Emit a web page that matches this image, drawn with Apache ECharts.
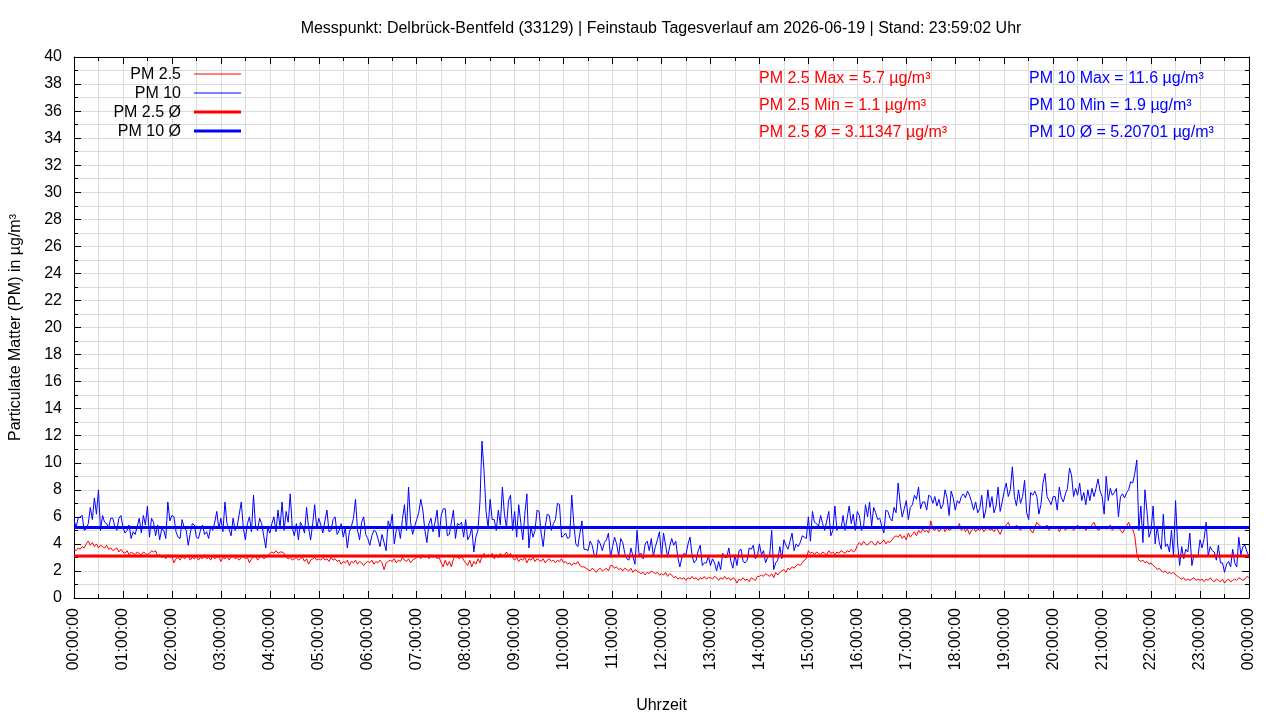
<!DOCTYPE html>
<html><head><meta charset="utf-8">
<script src="https://cdn.jsdelivr.net/npm/echarts@6/dist/echarts.min.js"></script>
<style>html,body{margin:0;padding:0;background:#fff}#c{width:1280px;height:720px}</style>
</head><body><div id="c"></div>
<script>
const chartTitle = 'Messpunkt: Delbrück-Bentfeld (33129) | Feinstaub Tagesverlauf am 2026-06-19 | Stand: 23:59:02 Uhr';
const pm25StepMinutes = 2.5;
const pm10StepMinutes = 2.5;
const seriesNames = ['PM 2.5', 'PM 10', 'PM 2.5 Ø', 'PM 10 Ø'];
const tickLabels = ['00:00:00','01:00:00','02:00:00','03:00:00','04:00:00','05:00:00','06:00:00','07:00:00',
  '08:00:00','09:00:00','10:00:00','11:00:00','12:00:00','13:00:00','14:00:00','15:00:00','16:00:00',
  '17:00:00','18:00:00','19:00:00','20:00:00','21:00:00','22:00:00','23:00:00','00:00:00'];

const pm25Max = 5.7, pm25Min = 1.1, pm25Avg = 3.11347;
const pm10Max = 11.6, pm10Min = 1.9, pm10Avg = 5.20701;

// PM 2.5, one value every 2.5 minutes (rows = hours 00..23, last value = 24:00)
const pm25 = [
  3.6,3.5,3.7,3.6,3.8,3.7,4.0,4.2,3.9,4.1,3.8,4.0,3.7,3.9,3.8,3.7,3.9,3.6,3.7,3.5,3.6,3.7,3.4,3.6,
  3.4,3.3,3.5,3.2,3.4,3.3,3.2,3.4,3.3,3.2,3.4,3.3,3.2,3.3,3.5,3.4,3.5,3.1,3.2,3.0,3.1,2.9,3.2,3.0,
  3.1,2.6,2.9,3.0,2.8,3.1,2.9,3.0,3.2,2.8,3.0,2.9,3.1,2.8,3.0,2.9,3.2,2.9,3.0,2.8,3.1,2.9,3.0,3.1,
  2.7,3.0,2.9,3.1,2.8,3.0,3.1,2.9,3.0,2.8,3.0,3.1,2.9,3.0,2.6,2.9,3.0,3.1,2.8,3.0,3.1,2.9,3.0,3.1,
  3.3,3.4,3.3,3.5,3.3,3.4,3.4,3.3,3.0,2.9,3.0,2.8,2.9,3.0,2.8,2.9,3.0,2.7,2.9,2.5,2.8,2.9,3.0,2.8,
  2.9,2.8,3.0,2.8,2.9,2.7,3.0,2.8,2.9,2.7,2.8,2.5,2.7,2.6,2.8,2.4,2.7,2.6,2.8,2.5,2.7,2.6,2.4,2.6,
  2.7,2.6,2.8,2.5,2.7,2.6,2.8,2.6,2.1,2.6,2.7,2.8,2.7,2.9,2.6,2.8,2.7,3.0,2.8,2.7,2.9,2.6,2.8,2.9,
  3.0,3.1,2.9,3.2,3.0,3.1,2.9,3.2,3.0,3.1,2.9,3.0,2.6,2.3,2.8,2.4,2.7,2.3,2.9,3.1,3.0,2.9,3.1,2.8,
  2.6,2.4,2.8,2.3,2.7,2.5,2.9,2.6,3.1,3.3,3.0,3.2,3.1,3.3,2.9,3.2,3.0,3.3,3.1,3.2,3.4,3.1,3.3,3.0,
  2.8,3.0,2.7,2.9,2.8,3.0,2.6,2.9,2.8,3.0,2.7,2.9,2.8,2.7,2.9,2.6,2.8,2.9,2.7,2.8,2.6,2.8,2.7,2.9,
  2.6,2.7,2.5,2.6,2.4,2.6,2.5,2.7,2.4,2.3,2.3,2.2,2.1,2.0,2.2,2.1,1.9,2.1,2.2,2.0,2.1,2.2,2.0,2.4,
  2.4,2.2,2.3,2.1,2.2,2.0,2.2,2.1,2.0,2.2,1.9,2.1,2.0,1.9,1.8,1.9,1.7,1.9,1.8,2.0,1.9,1.8,1.9,1.7,
  1.8,1.7,1.9,1.6,1.8,1.7,1.5,1.6,1.4,1.5,1.4,1.5,1.3,1.5,1.4,1.6,1.4,1.5,1.3,1.5,1.4,1.6,1.4,1.5,
  1.5,1.4,1.6,1.5,1.3,1.5,1.4,1.6,1.4,1.5,1.3,1.5,1.4,1.1,1.4,1.3,1.5,1.3,1.4,1.2,1.5,1.4,1.3,1.6,
  1.6,1.7,1.6,1.8,1.7,1.6,1.8,1.5,1.9,1.7,1.9,2.0,2.1,1.9,2.2,2.1,2.3,2.2,2.4,2.5,2.4,2.6,2.8,2.9,
  3.5,3.3,3.4,3.2,3.4,3.3,3.2,3.4,3.3,3.2,3.5,3.3,3.4,3.2,3.4,3.3,3.5,3.4,3.3,3.5,3.4,3.6,3.4,3.5,
  3.9,4.1,3.9,4.2,4.0,3.9,4.1,4.2,4.0,3.9,4.2,4.0,4.1,4.3,4.0,4.2,4.1,4.3,4.5,4.6,4.5,4.7,4.4,4.6,
  4.3,4.8,4.5,4.7,4.9,4.6,5.0,4.8,5.1,4.9,5.0,4.8,5.7,5.1,5.0,5.2,4.9,5.1,5.3,4.9,5.2,5.0,5.1,5.2,
  5.1,5.2,5.5,5.0,5.2,4.9,5.1,4.7,5.0,5.2,4.9,5.1,5.0,5.2,4.9,5.1,5.2,5.0,5.1,4.9,5.2,5.0,4.7,5.1,
  5.2,5.4,5.6,5.2,5.3,5.1,5.4,5.2,5.0,5.3,5.1,5.2,5.3,5.0,4.8,5.2,5.6,5.4,5.3,5.1,5.2,5.4,5.0,5.2,
  5.2,5.1,5.3,4.9,5.2,5.3,5.0,5.2,5.1,5.3,5.0,5.2,5.4,5.1,5.2,5.3,5.0,5.2,5.1,5.4,5.6,5.2,5.0,5.1,
  5.2,5.3,5.1,5.2,5.4,5.0,5.2,5.1,5.3,5.0,4.8,5.1,5.3,5.6,5.2,5.1,4.6,3.3,2.8,2.7,2.8,2.6,2.7,2.5,
  2.6,2.4,2.3,2.1,2.2,2.0,1.9,2.0,1.8,1.9,1.8,1.9,1.7,1.6,1.5,1.4,1.5,1.3,1.4,1.3,1.4,1.5,1.3,1.4,
  1.3,1.4,1.2,1.4,1.3,1.5,1.3,1.2,1.4,1.3,1.2,1.4,1.1,1.3,1.4,1.2,1.3,1.4,1.3,1.5,1.4,1.3,1.4,1.6,
  1.5
];

// PM 10, one value every 2.5 minutes (rows = hours 00..23, last value = 24:00)
const pm10 = [
  5.8,5.2,5.9,6.0,6.1,5.0,5.1,5.5,6.7,5.8,7.4,6.2,8.0,5.0,6.1,5.6,5.5,5.2,5.9,5.9,5.3,5.0,5.9,6.1,
  5.2,4.8,5.0,5.4,4.4,4.9,4.7,5.3,5.9,4.8,6.1,5.4,6.8,4.5,5.9,5.6,4.6,5.4,4.3,5.1,5.0,4.4,7.1,5.7,
  6.1,6.0,4.9,4.5,4.4,5.8,5.2,5.0,3.9,4.8,5.5,5.4,4.5,4.4,5.0,5.4,4.7,4.9,4.4,5.3,5.0,5.6,6.4,5.1,
  5.9,4.9,7.1,5.5,5.1,4.6,5.9,5.0,5.3,6.2,7.1,5.2,4.3,5.5,6.0,4.9,7.6,5.3,5.0,5.9,5.5,4.6,3.7,5.2,
  4.8,5.5,6.0,4.9,6.5,5.2,7.1,5.0,6.4,5.6,7.7,5.2,4.6,5.5,4.3,5.6,5.3,4.8,6.7,5.2,4.3,5.5,6.9,5.1,
  5.9,5.4,4.8,5.7,6.5,4.9,5.0,5.8,6.0,4.7,5.0,5.5,4.5,5.2,3.7,4.9,5.3,5.9,7.3,5.0,4.3,5.6,6.0,4.7,
  4.4,3.9,4.6,5.0,4.9,4.4,3.8,4.7,4.1,3.5,5.7,5.2,6.2,4.0,5.0,5.3,4.4,5.8,6.9,5.0,8.2,5.6,4.7,5.3,
  5.8,6.3,7.3,6.5,5.0,4.1,5.5,5.9,4.9,5.6,6.5,4.5,6.1,6.6,6.6,4.6,4.7,5.6,6.5,4.4,5.5,5.4,5.6,4.5,
  5.8,4.3,4.6,5.2,3.4,4.5,5.0,7.1,11.6,9.4,6.4,5.2,7.3,5.8,5.8,5.0,6.5,5.4,8.2,6.2,5.2,7.2,7.6,5.0,
  6.4,4.5,6.9,5.6,4.3,6.2,7.7,3.7,5.3,4.5,5.0,6.5,6.4,4.8,3.8,5.3,6.2,6.1,5.0,5.5,5.8,7.0,6.9,4.5,
  4.6,4.8,4.4,4.5,7.6,5.5,4.0,3.8,4.8,5.7,3.6,3.6,3.5,4.2,3.9,3.2,3.0,4.3,4.0,3.5,4.1,4.3,4.8,3.0,
  3.8,4.5,4.0,3.1,4.4,4.1,3.3,2.9,2.8,3.7,3.1,2.5,5.0,3.2,3.3,2.9,4.0,4.2,3.5,4.4,3.1,3.8,4.3,4.9,
  3.0,4.8,3.9,3.0,3.8,4.4,3.9,4.2,3.0,2.3,3.0,3.3,3.2,4.0,4.5,3.1,2.6,2.8,3.5,3.9,2.4,2.6,2.6,3.1,
  2.4,2.9,2.6,2.0,2.7,2.1,3.3,3.0,3.0,3.7,2.7,2.2,3.2,2.4,3.5,3.6,2.7,2.6,2.8,3.7,3.6,3.9,2.9,3.1,
  4.0,3.2,3.5,2.6,3.0,3.1,5.0,2.1,2.6,2.8,3.8,2.9,4.3,3.9,3.6,4.2,4.8,3.5,4.0,3.8,4.1,4.6,4.5,4.4,
  6.0,4.2,6.4,5.6,5.5,5.3,6.1,5.5,5.0,5.7,6.4,4.6,5.0,6.8,5.0,5.3,5.1,6.1,5.0,5.9,6.8,5.5,6.2,5.0,
  6.4,6.1,5.0,5.2,6.9,6.0,7.1,5.3,6.7,6.3,5.8,5.9,5.3,4.8,6.5,6.4,5.9,5.7,6.7,6.3,8.5,7.0,6.0,6.6,
  7.2,5.8,6.7,6.9,7.6,7.3,8.2,6.6,7.1,7.1,6.5,7.6,7.5,7.0,7.5,6.8,7.3,6.6,6.9,8.0,7.4,6.1,7.9,7.4,
  6.5,7.2,7.0,7.5,7.7,7.4,7.9,7.6,7.1,6.5,7.1,6.3,6.6,7.6,5.9,6.5,8.0,6.7,7.5,6.3,6.8,8.2,6.4,7.1,
  7.9,8.5,7.5,8.0,9.7,7.5,6.8,8.0,7.0,7.5,8.7,6.3,5.8,7.8,7.6,7.9,7.5,6.2,6.9,8.5,9.2,7.5,7.2,6.9,
  7.5,7.5,6.5,8.2,7.4,7.1,7.7,8.1,9.6,9.1,7.5,8.1,7.6,8.5,7.2,7.8,6.9,8.0,7.2,8.1,7.5,8.1,8.8,7.9,
  7.5,6.2,9.0,7.2,8.1,7.6,7.8,8.1,6.0,7.5,7.7,7.4,7.8,8.0,8.6,8.5,9.2,10.2,5.0,6.8,4.1,8.0,6.4,4.5,
  5.0,6.8,4.0,5.3,4.1,3.6,6.2,3.8,4.0,3.4,5.0,3.1,7.2,4.0,2.4,3.8,2.9,3.6,3.4,4.8,2.4,3.2,3.0,3.1,
  4.3,3.7,4.4,5.6,3.1,3.8,3.5,3.4,2.8,3.9,2.6,2.6,1.9,2.5,2.7,2.3,3.6,2.6,2.3,4.5,3.2,3.8,3.9,3.4,
  3.1
];

const FONT = '"Liberation Sans", Arial, sans-serif';
const RED = '#ff0000', BLUE = '#0000ff', GRID = '#dcdcdc';
const toPairs = (arr, step) => arr.map((v, i) => [i * step, v]);
const dayEnd = (tickLabels.length - 1) * 60;

const chart = echarts.init(document.getElementById('c'), null, {renderer: 'canvas'});

const tickCommon = {
  axisLine: {show: true, onZero: false, lineStyle: {color: '#000', width: 1}},
  axisTick: {show: true, inside: true, length: 7, lineStyle: {color: '#000'}},
  minorTick: {show: true, splitNumber: 2, length: 4, lineStyle: {color: '#000'}}
};

const legendRows = [
  {name: seriesNames[0], color: RED, w: 1},
  {name: seriesNames[1], color: BLUE, w: 1},
  {name: seriesNames[2], color: RED, w: 3},
  {name: seriesNames[3], color: BLUE, w: 3}
];
const graphics = [];
legendRows.forEach((r, k) => {
  const y = 75 + 19 * k;
  graphics.push({type: 'text', x: 181, y: y, z: 100,
    style: {text: r.name, font: '16px ' + FONT, fill: '#000', align: 'right', verticalAlign: 'middle'}});
  graphics.push({type: 'line', z: 100, shape: {x1: 194, y1: y - 1, x2: 241, y2: y - 1},
    style: {stroke: r.color, lineWidth: r.w}});
});
const notes = [
  {x: 759, color: RED, lines: [
    'PM 2.5 Max = ' + pm25Max + ' µg/m³',
    'PM 2.5 Min = ' + pm25Min + ' µg/m³',
    'PM 2.5 Ø = ' + pm25Avg + ' µg/m³']},
  {x: 1029, color: BLUE, lines: [
    'PM 10 Max = ' + pm10Max + ' µg/m³',
    'PM 10 Min = ' + pm10Min + ' µg/m³',
    'PM 10 Ø = ' + pm10Avg + ' µg/m³']}
];
notes.forEach(n => n.lines.forEach((t, k) => {
  graphics.push({type: 'text', x: n.x, y: 79 + 27 * k, z: 100,
    style: {text: t, font: '16px ' + FONT, fill: n.color, align: 'left', verticalAlign: 'middle'}});
}));

chart.setOption({
  animation: false,
  backgroundColor: '#fff',
  textStyle: {fontFamily: FONT},
  title: {
    text: chartTitle, left: 656, top: 16, textAlign: 'center',
    textStyle: {fontFamily: FONT, fontSize: 16, fontWeight: 'normal', color: '#000'}
  },
  grid: {left: 74, right: 31, top: 57, bottom: 122, containLabel: false, outerBoundsMode: 'none'},
  xAxis: [
    Object.assign({
      type: 'value', min: 0, max: dayEnd, interval: 60, position: 'bottom',
      splitLine: {show: true, lineStyle: {color: GRID, width: 1}},
      minorSplitLine: {show: true, lineStyle: {color: GRID, width: 1}},
      axisLabel: {rotate: 90, fontSize: 16, color: '#000', fontFamily: FONT, margin: 10,
        formatter: v => tickLabels[Math.round(v / 60)]},
      name: 'Uhrzeit', nameLocation: 'middle', nameGap: 100,
      nameTextStyle: {fontSize: 16, color: '#000', fontFamily: FONT}
    }, tickCommon),
    Object.assign({
      type: 'value', min: 0, max: dayEnd, interval: 60, position: 'top',
      splitLine: {show: false}, axisLabel: {show: false}
    }, tickCommon)
  ],
  yAxis: [
    Object.assign({
      type: 'value', min: 0, max: 40, interval: 2, position: 'left',
      splitLine: {show: true, lineStyle: {color: GRID, width: 1}},
      minorSplitLine: {show: true, lineStyle: {color: GRID, width: 1}},
      axisLabel: {fontSize: 16, color: '#000', fontFamily: FONT, margin: 12},
      name: 'Particulate Matter (PM) in µg/m³', nameLocation: 'middle', nameGap: 50,
      nameTextStyle: {fontSize: 16, color: '#000', fontFamily: FONT}
    }, tickCommon),
    Object.assign({
      type: 'value', min: 0, max: 40, interval: 2, position: 'right',
      splitLine: {show: false}, axisLabel: {show: false}
    }, tickCommon)
  ],
  series: [
    {name: seriesNames[0], type: 'line', xAxisIndex: 0, yAxisIndex: 0, data: toPairs(pm25, pm25StepMinutes),
      showSymbol: false, symbol: 'none', lineStyle: {color: RED, width: 1}, itemStyle: {color: RED}},
    {name: seriesNames[1], type: 'line', xAxisIndex: 0, yAxisIndex: 0, data: toPairs(pm10, pm10StepMinutes),
      showSymbol: false, symbol: 'none', lineStyle: {color: BLUE, width: 1}, itemStyle: {color: BLUE}},
    {name: seriesNames[2], type: 'line', xAxisIndex: 0, yAxisIndex: 0, data: [[0, pm25Avg], [dayEnd, pm25Avg]],
      showSymbol: false, symbol: 'none', lineStyle: {color: RED, width: 3}, itemStyle: {color: RED}},
    {name: seriesNames[3], type: 'line', xAxisIndex: 0, yAxisIndex: 0, data: [[0, pm10Avg], [dayEnd, pm10Avg]],
      showSymbol: false, symbol: 'none', lineStyle: {color: BLUE, width: 3}, itemStyle: {color: BLUE}}
  ],
  graphic: graphics
});
</script>
</body></html>
